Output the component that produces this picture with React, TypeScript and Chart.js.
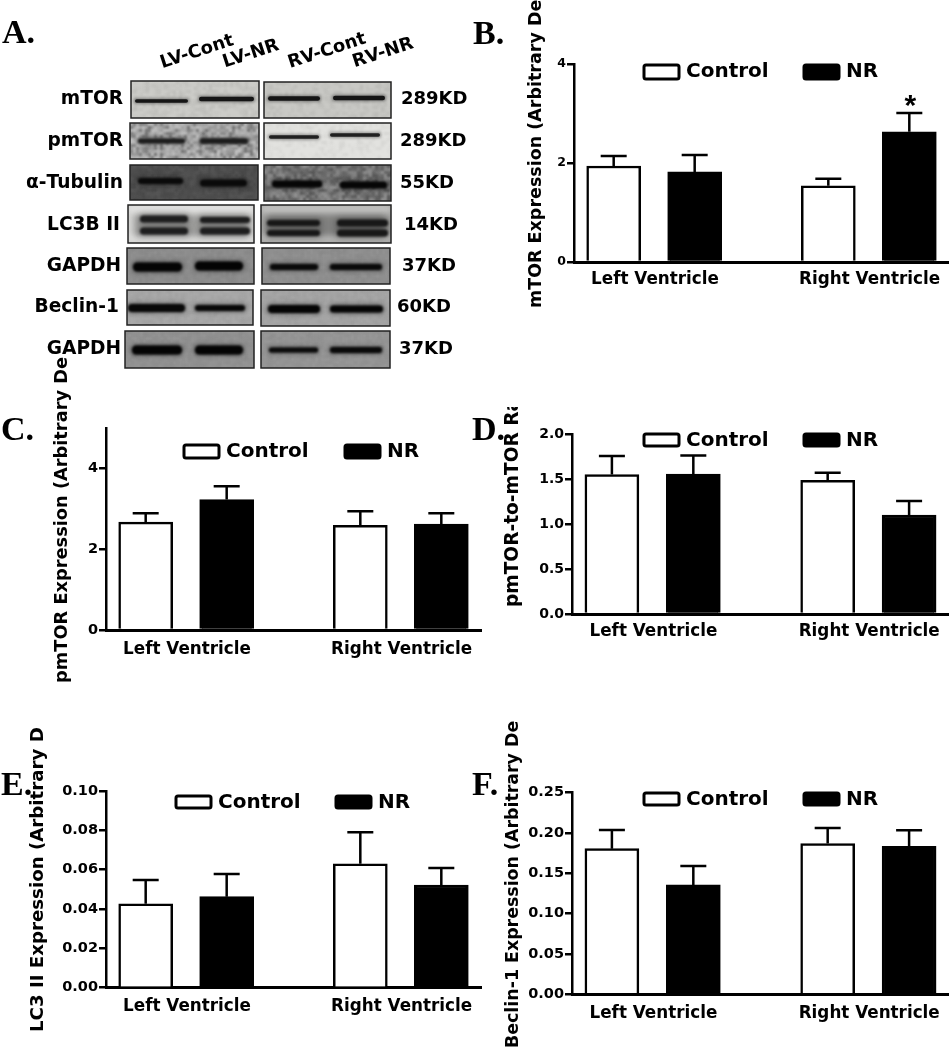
import { useEffect, useRef } from "react";
import { Chart, registerables } from "chart.js";

Chart.register(...registerables);

const WIDTH = 949;
const HEIGHT = 1050;

const groupLabels = ["Left Ventricle", "Right Ventricle"];
const seriesLabels = ["Control", "NR"];

// slot positions on the linear x axis
const controlSlots = [0.49, 3.14];
const nrSlots = [1.49, 4.14];
const groupSlots = [1, 3.65];

const mtorControl = [1.94, 1.54];
const mtorControlTop = [2.14, 1.68];
const mtorNR = [1.82, 2.63];
const mtorNRTop = [2.16, 3.01];

const pmtorControl = [2.67, 2.59];
const pmtorControlTop = [2.89, 2.94];
const pmtorNR = [3.23, 2.62];
const pmtorNRTop = [3.56, 2.89];

const ratioControl = [1.55, 1.485];
const ratioControlTop = [1.755, 1.57];
const ratioNR = [1.555, 1.1];
const ratioNRTop = [1.76, 1.255];

const lc3Control = [0.0427, 0.063];
const lc3ControlTop = [0.0548, 0.079];
const lc3NR = [0.0463, 0.0522];
const lc3NRTop = [0.0578, 0.0608];

const beclinControl = [0.1806, 0.187];
const beclinControlTop = [0.2037, 0.2062];
const beclinNR = [0.1356, 0.1835];
const beclinNRTop = [0.159, 0.2033];

const FONT = "'DejaVu Sans'";

const panels = [
  {
    key: "B", title: "mTOR Expression (Arbitrary De", titleX: 536, titleBottom: 308, titleSize: 17.5, titleClip: 0,
    left: 574, right: 949, top: 64, base: 262, yMax: 4, yStep: 2, tickSize: 12.5, decimals: 0, xPad: 8,
    control: mtorControl, controlTop: mtorControlTop, nr: mtorNR, nrTop: mtorNRTop,
    legend: { x1: 643, x2: 803, y: 64, h: 16, textY: 72 }, star: true,
  },
  {
    key: "C", title: "pmTOR Expression (Arbitrary De", titleX: 62, titleBottom: 683, titleSize: 17.8, titleClip: 357,
    left: 106, right: 481, top: 428, base: 630, yMax: 5, yStep: 2, tickSize: 14.5, decimals: 0, xPad: 10,
    control: pmtorControl, controlTop: pmtorControlTop, nr: pmtorNR, nrTop: pmtorNRTop,
    legend: { x1: 183, x2: 344, y: 444, h: 15, textY: 452 }, star: false,
  },
  {
    key: "D", title: "pmTOR-to-mTOR Ra", titleX: 513, titleBottom: 607, titleSize: 18.6, titleClip: 407,
    left: 572, right: 949, top: 434, base: 614, yMax: 2, yStep: 0.5, tickSize: 14, decimals: 1, xPad: 8,
    control: ratioControl, controlTop: ratioControlTop, nr: ratioNR, nrTop: ratioNRTop,
    legend: { x1: 643, x2: 803, y: 433, h: 14, textY: 441 }, star: false,
  },
  {
    key: "E", title: "LC3 II Expression (Arbitrary De", titleX: 38, titleBottom: 1032, titleSize: 18.2, titleClip: 728,
    left: 106, right: 481, top: 791, base: 987.7, yMax: 0.1, yStep: 0.02, tickSize: 14.5, decimals: 2, xPad: 9,
    control: lc3Control, controlTop: lc3ControlTop, nr: lc3NR, nrTop: lc3NRTop,
    legend: { x1: 175, x2: 335, y: 795, h: 14, textY: 803 }, star: false,
  },
  {
    key: "F", title: "Beclin-1 Expression (Arbitrary De", titleX: 513, titleBottom: 1048, titleSize: 17.4, titleClip: 720,
    left: 572, right: 949, top: 792.7, base: 994.3, yMax: 0.25, yStep: 0.05, tickSize: 14.5, decimals: 2, xPad: 9,
    control: beclinControl, controlTop: beclinControlTop, nr: beclinNR, nrTop: beclinNRTop,
    legend: { x1: 643, x2: 803, y: 792, h: 14, textY: 800 }, star: false,
  },
];

const panelLetters = [
  ["A.", 2, 43], ["B.", 473, 44], ["C.", 1, 440], ["D.", 472, 440], ["E.", 1, 795], ["F.", 472, 795],
] as const;

const laneLabels = [
  ["LV-Cont", 197, 52], ["LV-NR", 251, 54], ["RV-Cont", 327, 51], ["RV-NR", 383, 53],
] as const;

type Band = [number, number, number, number];
type Blot = { x: number; y: number; w: number; h: number; bg: string; noise: number; blur: number; ink: string; bands: Band[]; smear?: boolean };
const blotRows: { label: string; labelRight: number; labelY: number; kd: string; kdX: number; blots: Blot[] }[] = [
  { label: "mTOR", labelRight: 123, labelY: 99, kd: "289KD", kdX: 401, blots: [
    { x: 131, y: 81, w: 128, h: 37, bg: "#cbcbc7", noise: 6, blur: 0.7, ink: "#151515", bands: [[135, 188, 101, 3.5], [199, 254, 99, 4.5]] },
    { x: 264, y: 82, w: 127, h: 36, bg: "#c8c8c4", noise: 6, blur: 0.7, ink: "#151515", bands: [[268, 320, 98.5, 4.5], [333, 385, 98, 4.5]] },
  ] },
  { label: "pmTOR", labelRight: 123, labelY: 141, kd: "289KD", kdX: 400, blots: [
    { x: 130, y: 123, w: 129, h: 36, bg: "#a9a9a9", noise: 34, blur: 0.8, ink: "#1c1c1c", bands: [[138, 185, 141, 5], [200, 248, 141, 5.5]] },
    { x: 264, y: 123, w: 127, h: 36, bg: "#e2e2df", noise: 5, blur: 0.6, ink: "#202020", bands: [[269, 319, 137, 3.5], [330, 380, 135, 3.5]] },
  ] },
  { label: "α-Tubulin", labelRight: 123, labelY: 183, kd: "55KD", kdX: 400, blots: [
    { x: 130, y: 165, w: 128, h: 35, bg: "#4e4e4e", noise: 6, blur: 1.2, ink: "#0a0a0a", bands: [[138, 183, 181, 6], [200, 247, 183, 7]] },
    { x: 264, y: 165, w: 127, h: 36, bg: "#727272", noise: 26, blur: 1, ink: "#060606", bands: [[272, 322, 184, 7], [340, 387, 185, 7]] },
  ] },
  { label: "LC3B II", labelRight: 120, labelY: 225, kd: "14KD", kdX: 404, blots: [
    { x: 128, y: 205, w: 126, h: 38, bg: "#d4d4d2", noise: 0, blur: 1.3, ink: "#1e1e1e", smear: true, bands: [[140, 188, 219, 7], [200, 250, 220, 6], [140, 188, 231, 7], [200, 250, 231, 7]] },
    { x: 261, y: 205, w: 130, h: 38, bg: "#a5a5a3", noise: 0, blur: 1.3, ink: "#181818", smear: true, bands: [[267, 320, 223, 6], [337, 388, 223, 7], [267, 320, 233, 6], [337, 388, 233, 7]] },
  ] },
  { label: "GAPDH", labelRight: 121, labelY: 266, kd: "37KD", kdX: 402, blots: [
    { x: 127, y: 248, w: 127, h: 36, bg: "#8d8d8d", noise: 4, blur: 0.9, ink: "#040404", bands: [[133, 182, 267, 9], [195, 243, 266, 9]] },
    { x: 262, y: 248, w: 128, h: 36, bg: "#8f8f8f", noise: 4, blur: 0.9, ink: "#0a0a0a", bands: [[270, 318, 267, 6], [330, 382, 267, 6]] },
  ] },
  { label: "Beclin-1", labelRight: 119, labelY: 307, kd: "60KD", kdX: 397, blots: [
    { x: 127, y: 290, w: 126, h: 35, bg: "#a8a8a8", noise: 4, blur: 1.1, ink: "#080808", bands: [[128, 185, 308, 8], [195, 245, 308, 6]] },
    { x: 261, y: 290, w: 129, h: 36, bg: "#a5a5a5", noise: 4, blur: 1.1, ink: "#050505", bands: [[268, 320, 309, 8], [330, 383, 309, 7]] },
  ] },
  { label: "GAPDH", labelRight: 121, labelY: 349, kd: "37KD", kdX: 399, blots: [
    { x: 125, y: 331, w: 129, h: 37, bg: "#929292", noise: 4, blur: 0.9, ink: "#040404", bands: [[132, 182, 350, 9], [195, 243, 350, 9]] },
    { x: 261, y: 331, w: 129, h: 37, bg: "#959595", noise: 4, blur: 0.9, ink: "#0a0a0a", bands: [[269, 318, 350, 5], [330, 382, 350, 6]] },
  ] },
];

function speckle(x: number, y: number) {
  const v = Math.sin(x * 12.9898 + y * 78.233) * 43758.5453;
  return v - Math.floor(v);
}

function drawWesternBlots(ctx: CanvasRenderingContext2D) {
  ctx.fillStyle = "#000";
  ctx.textBaseline = "middle";
  for (const row of blotRows) {
    for (const b of row.blots) {
      ctx.save();
      ctx.beginPath();
      ctx.rect(b.x, b.y, b.w, b.h);
      ctx.clip();
      ctx.fillStyle = b.bg;
      ctx.fillRect(b.x, b.y, b.w, b.h);
      if (b.noise > 0) {
        ctx.filter = "blur(1px)";
        for (let py = b.y; py < b.y + b.h; py += 3) {
          for (let px = b.x; px < b.x + b.w; px += 3) {
            const n = speckle(px, py) - 0.5;
            const a = Math.abs(n) * 2 * (b.noise / 100);
            ctx.fillStyle = n > 0 ? `rgba(255,255,255,${a})` : `rgba(0,0,0,${a})`;
            ctx.fillRect(px, py, 3, 3);
          }
        }
        ctx.filter = "none";
      }
      if (b.smear) {
        ctx.filter = "blur(3px)";
        ctx.fillStyle = "rgba(255,255,255,0.45)";
        ctx.fillRect(b.x, b.y + 1, b.w, 6);
        ctx.fillRect(b.x, b.y + b.h - 8, b.w, 5);
        ctx.fillStyle = "rgba(60,60,60,0.35)";
        ctx.fillRect(b.x + 6, b.y + 10, b.w - 12, 22);
        ctx.filter = "none";
      }
      ctx.fillStyle = b.ink;
      for (const [x1, x2, yc, t] of b.bands) {
        ctx.filter = `blur(${b.blur * 2.5}px)`;
        ctx.globalAlpha = 0.45;
        ctx.beginPath();
        ctx.roundRect(x1 - 1, yc - t / 2 - 1, x2 - x1 + 2, t + 2, t / 2);
        ctx.fill();
        ctx.filter = `blur(${b.blur}px)`;
        ctx.globalAlpha = 1;
        ctx.beginPath();
        ctx.roundRect(x1, yc - t / 2, x2 - x1, t, t / 2);
        ctx.fill();
      }
      ctx.filter = "none";
      ctx.restore();
      ctx.strokeStyle = "#222";
      ctx.lineWidth = 1.5;
      ctx.strokeRect(b.x, b.y, b.w, b.h);
    }
    ctx.fillStyle = "#000";
    ctx.font = `bold 18.6px ${FONT}`;
    ctx.textAlign = "right";
    ctx.fillText(row.label, row.labelRight, row.labelY);
    ctx.font = `bold 18px ${FONT}`;
    ctx.textAlign = "left";
    ctx.fillText(row.kd, row.kdX, row.labelY);
  }
  ctx.textAlign = "center";
  ctx.font = `bold 18px ${FONT}`;
  for (const [text, x, y] of laneLabels) {
    ctx.save();
    ctx.translate(x, y);
    ctx.rotate((-18 * Math.PI) / 180);
    ctx.fillText(text, 0, 0);
    ctx.restore();
  }
  ctx.textAlign = "left";
  ctx.textBaseline = "alphabetic";
  ctx.font = "bold 34px 'Liberation Serif'";
  for (const [text, x, y] of panelLetters) ctx.fillText(text, x, y);
}

function makePanelChart(canvas: HTMLCanvasElement, p: (typeof panels)[number]) {
  const X_BOX = 44;
  const Y_BOX = 60;
  const decor = {
    id: "panelDecor",
    afterDatasetsDraw(chart: any) {
      const { ctx } = chart;
      const y = chart.scales.y;
      ctx.save();
      ctx.strokeStyle = "#000";
      ctx.lineWidth = 2.5;
      [p.controlTop, p.nrTop].forEach((tops, d) => {
        const meta = chart.getDatasetMeta(d);
        tops.forEach((top, i) => {
          const el = meta.data[i];
          const yTop = y.getPixelForValue(top);
          ctx.beginPath();
          ctx.moveTo(el.x, el.y);
          ctx.lineTo(el.x, yTop);
          ctx.moveTo(el.x - 13, yTop);
          ctx.lineTo(el.x + 13, yTop);
          ctx.stroke();
        });
      });
      if (p.star) {
        const el = chart.getDatasetMeta(1).data[1];
        ctx.fillStyle = "#000";
        ctx.font = "bold 30px 'Liberation Sans'";
        ctx.textAlign = "center";
        ctx.textBaseline = "alphabetic";
        ctx.fillText("*", el.x + 1, y.getPixelForValue(p.nrTop[1]) + 2);
      }
      ctx.restore();
    },
    afterDraw(chart: any) {
      const { ctx } = chart;
      ctx.save();
      ctx.fillStyle = "#000";
      ctx.textBaseline = "middle";
      ctx.textAlign = "left";
      ctx.font = `bold 20px ${FONT}`;
      const xs = [p.legend.x1, p.legend.x2];
      chart.data.datasets.forEach((ds: any, i: number) => {
        ctx.beginPath();
        ctx.roundRect(xs[i] + 1, p.legend.y + 1, 35, p.legend.h - 2, 2);
        ctx.fillStyle = ds.backgroundColor;
        ctx.fill();
        ctx.strokeStyle = "#000";
        ctx.lineWidth = 3;
        ctx.stroke();
        ctx.fillStyle = "#000";
        ctx.fillText(ds.label, xs[i] + 43, p.legend.textY);
      });
      ctx.save();
      if (p.titleClip > 0) {
        ctx.beginPath();
        ctx.rect(0, p.titleClip, WIDTH, HEIGHT - p.titleClip);
        ctx.clip();
      }
      ctx.translate(p.titleX, p.titleBottom);
      ctx.rotate(-Math.PI / 2);
      ctx.font = `bold ${p.titleSize}px ${FONT}`;
      ctx.fillText(p.title, 0, 0);
      ctx.restore();
      ctx.restore();
    },
  };
  return new Chart(canvas, {
    type: "bar",
    data: {
      datasets: [
        {
          label: seriesLabels[0],
          data: p.control.map((v, i) => ({ x: controlSlots[i], y: v })),
          backgroundColor: "#ffffff",
          borderColor: "#000000",
          borderWidth: 2.5,
          barThickness: 54,
          grouped: false,
        },
        {
          label: seriesLabels[1],
          data: p.nr.map((v, i) => ({ x: nrSlots[i], y: v })),
          backgroundColor: "#000000",
          borderColor: "#000000",
          borderWidth: 2.5,
          barThickness: 54,
          grouped: false,
        },
      ],
    } as any,
    options: {
      animation: false,
      responsive: false,
      events: [],
      layout: {
        padding: {
          left: p.left - Y_BOX,
          right: WIDTH - p.right,
          top: p.top,
          bottom: HEIGHT - p.base - X_BOX,
        },
      },
      plugins: { legend: { display: false }, tooltip: { enabled: false } },
      scales: {
        x: {
          type: "linear",
          offset: false,
          min: 0,
          max: 4.63,
          grid: { display: false, drawTicks: false, offset: false },
          border: { display: true, color: "#000", width: 3 },
          afterBuildTicks: (s: any) => {
            s.ticks = groupSlots.map((value) => ({ value }));
          },
          afterFit: (s: any) => {
            s.height = X_BOX;
          },
          ticks: {
            autoSkip: false,
            maxRotation: 0,
            padding: p.xPad,
            color: "#000",
            font: { family: "DejaVu Sans", weight: "bold", size: 16.8 },
            callback: (_v: any, i: number) => groupLabels[i],
          },
        },
        y: {
          type: "linear",
          bounds: "data",
          min: 0,
          max: p.yMax,
          grid: { display: true, drawOnChartArea: false, drawTicks: true, tickLength: 7, lineWidth: 2.5, color: "#000" },
          border: { display: true, color: "#000", width: 2.5 },
          afterFit: (s: any) => {
            s.width = Y_BOX;
          },
          afterBuildTicks: (s: any) => {
            s.ticks = s.ticks.filter((t: any) => {
              const q = t.value / p.yStep;
              return Math.abs(q - Math.round(q)) < 1e-6;
            });
          },
          ticks: {
            stepSize: p.yStep,
            padding: 1,
            color: "#000",
            font: { family: "DejaVu Sans", weight: "bold", size: p.tickSize },
            callback: (v: any) => Number(v).toFixed(p.decimals),
          },
        },
      },
    } as any,
    plugins: [decor],
  });
}

const layer: React.CSSProperties = { position: "absolute", left: 0, top: 0, display: "block" };

export default function App() {
  const blotRef = useRef<HTMLCanvasElement>(null);
  const refs = useRef<(HTMLCanvasElement | null)[]>([]);

  useEffect(() => {
    const ctx = blotRef.current?.getContext("2d");
    if (ctx) {
      ctx.clearRect(0, 0, WIDTH, HEIGHT);
      drawWesternBlots(ctx);
    }
    const charts = panels.map((p, i) => makePanelChart(refs.current[i]!, p));
    return () => charts.forEach((c) => c.destroy());
  }, []);

  return (
    <div style={{ position: "absolute", left: 0, top: 0, width: WIDTH, height: HEIGHT, overflow: "hidden", background: "#fff" }}>
      <canvas ref={blotRef} width={WIDTH} height={HEIGHT} style={layer} />
      {panels.map((p, i) => (
        <canvas
          key={p.key}
          ref={(el) => {
            refs.current[i] = el;
          }}
          width={WIDTH}
          height={HEIGHT}
          style={layer}
        />
      ))}
    </div>
  );
}
